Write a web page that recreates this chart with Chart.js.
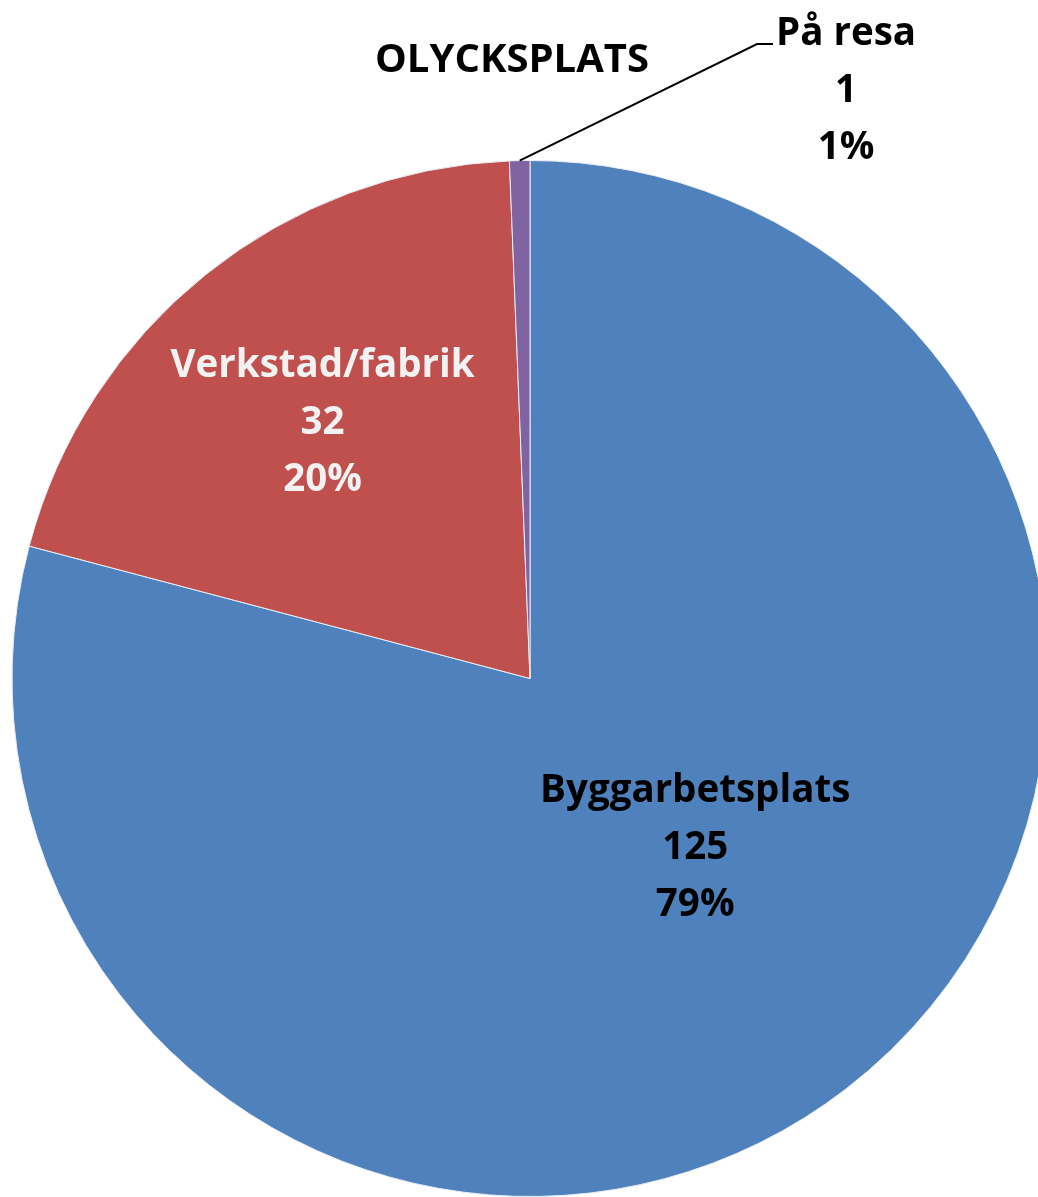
<!DOCTYPE html>
<html lang="sv">
<head>
<meta charset="utf-8">
<title>OLYCKSPLATS</title>
<script src="https://cdn.jsdelivr.net/npm/chart.js@4"></script>
<style>
    html, body { margin: 0; padding: 0; background: #ffffff; overflow: hidden; }
    #wrap { width: 1038px; height: 1197px; overflow: hidden; position: relative; }
    #graficoOlycksplats { display: block; }
</style>
</head>
<body>
<div id="wrap">
    <canvas id="graficoOlycksplats" width="1060" height="1197" style="width:1060px;height:1197px"></canvas>
</div>
<script>
// Data
const titel = "OLYCKSPLATS";
const kategorier = ["Byggarbetsplats", "Verkstad/fabrik", "På resa"];
const antal = [125, 32, 1];
const farger = ["#4F81BD", "#C0504D", "#8064A2"];

const FONT = "'Open Sans', Lato, sans-serif";

// Plugin som ritar titel och etiketter (värde + procent)
const etiketterPlugin = {
    id: "etiketter",
    afterDraw(chart) {
        const ctx = chart.ctx;
        const meta = chart.getDatasetMeta(0);
        const total = antal.reduce((sum, v) => sum + v, 0);

        ctx.save();
        ctx.textAlign = "center";
        ctx.textBaseline = "alphabetic";

        // Titel
        ctx.font = "bold 40px " + FONT;
        ctx.fillStyle = "#000000";
        ctx.fillText(titel, 512, 72);

        const radlinje = 57;
        meta.data.forEach((arc, i) => {
            const p = arc.getProps(["x", "y", "startAngle", "endAngle", "outerRadius"], true);
            const mitt = (p.startAngle + p.endAngle) / 2;
            const procent = Math.round(antal[i] / total * 100) + "%";
            const rader = [kategorier[i], String(antal[i]), procent];
            ctx.font = "bold 38.5px " + FONT;

            if (i === 0) {
                // inne i den blå sektorn
                const x = p.x + Math.cos(mitt) * p.outerRadius * 0.45 + 23;
                const y = p.y + Math.sin(mitt) * p.outerRadius * 0.45 - 18;
                ctx.fillStyle = "#000000";
                rader.forEach((t, k) => ctx.fillText(t, x, y - 43 + k * radlinje));
            } else if (i === 1) {
                const x = p.x + Math.cos(mitt) * p.outerRadius * 0.64;
                const y = p.y + Math.sin(mitt) * p.outerRadius * 0.64;
                ctx.fillStyle = "#F2F2F2";
                rader.forEach((t, k) => ctx.fillText(t, x, y - 43 + k * radlinje));
            } else {
                // liten sektor: etikett utanför med hänvisningslinje
                const x0 = p.x + Math.cos(mitt) * p.outerRadius;
                const y0 = p.y + Math.sin(mitt) * p.outerRadius;
                ctx.strokeStyle = "#000000";
                ctx.lineWidth = 2;
                ctx.beginPath();
                ctx.moveTo(x0, y0);
                ctx.lineTo(757, 44);
                ctx.lineTo(773, 44);
                ctx.stroke();
                ctx.fillStyle = "#000000";
                rader.forEach((t, k) => ctx.fillText(t, 846, 45 + k * radlinje));
            }
        });
        ctx.restore();
    }
};

const ctx = document.getElementById("graficoOlycksplats").getContext("2d");
new Chart(ctx, {
    type: "pie",
    data: {
        labels: kategorier,
        datasets: [{
            data: antal,
            backgroundColor: farger,
            borderColor: "#E8EEF6",
            borderWidth: 1
        }]
    },
    options: {
        responsive: false,
        animation: false,
        devicePixelRatio: 1,
        layout: {
            padding: { left: 11, right: 11, top: 160, bottom: 0 }
        },
        plugins: {
            legend: { display: false },
            tooltip: { enabled: false },
            title: { display: false }
        }
    },
    plugins: [etiketterPlugin]
});
</script>
</body>
</html>
